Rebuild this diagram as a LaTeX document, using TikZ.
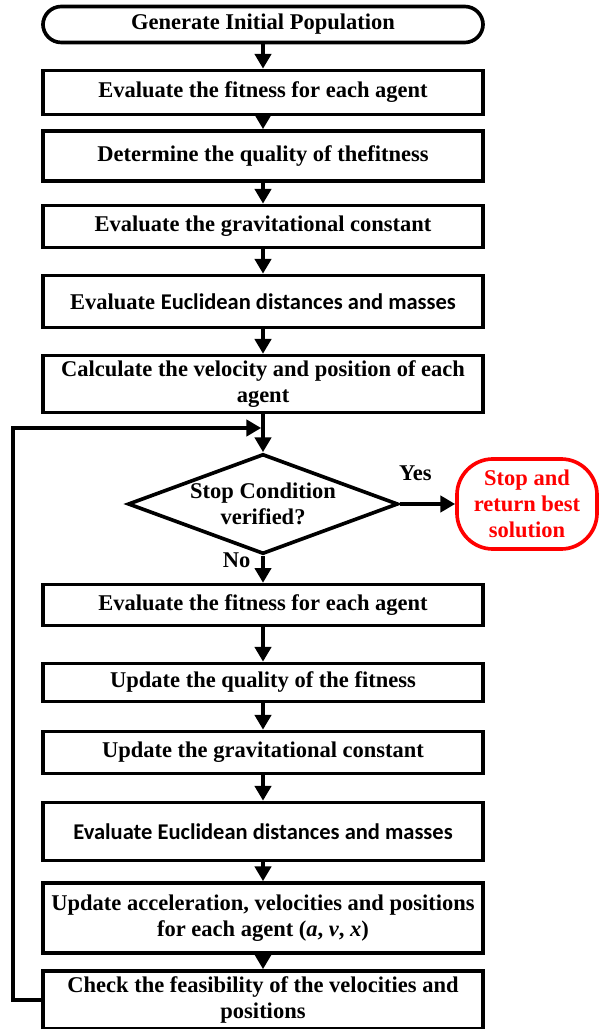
\documentclass[tikz,border=0pt]{standalone}
\usepackage{fontspec}
\setmainfont{Liberation Serif}
\newfontfamily\calfont{Carlito}
\usetikzlibrary{
  arrows.meta,
  shapes.geometric,
  positioning
}

\begin{document}
\begin{tikzpicture}[x=0.025cm, y=-0.025cm,
  font=\fontsize{16}{18.5}\selectfont\bfseries,
  stepbox/.style={draw, line width=2.6pt, minimum width=11cm, inner sep=1pt, align=center},
  arr/.style={line width=2.6pt, -{Triangle[length=10.5pt,width=11.5pt]}}]

\useasboundingbox (0,0) rectangle (599,1029);

% Initialisation part
\node[stepbox, rounded corners=0.46cm, minimum height=0.9cm] (init) at (263,24.5) {Generate Initial Population};
\node[stepbox, minimum height=1.1cm] (fit) at (263,92.5) {Evaluate the fitness for each agent};
\node[stepbox, minimum height=1.25cm] (qual) at (263,156) {Determine the quality of thefitness};
\node[stepbox, minimum height=1.05cm] (grav) at (263,226.5) {Evaluate the gravitational constant};
\node[stepbox, minimum height=1.3cm] (dist) at (263,301.5) {Evaluate {\calfont\fontsize{16}{18}\selectfont Euclidean distances and masses}};
\node[stepbox, minimum height=1.42cm] (vel) at (263,384) {Calculate the velocity and position of each\\agent};

% Decision
\node[draw, diamond, line width=2.6pt, aspect=2.7, minimum width=6.75cm, minimum height=2.5cm, inner sep=0pt, align=center] (stop) at (263,504) {Stop Condition\\verified?};
\node[draw=red, text=red, line width=2.6pt, rounded corners=0.9cm, minimum width=3.5cm, minimum height=2.25cm, inner sep=1pt, align=center] (best) at (527,504) {Stop and\\return best\\solution};

% Main loop
\node[stepbox, minimum height=1.02cm] (fit2) at (263,605) {Evaluate the fitness for each agent};
\node[stepbox, minimum height=0.95cm] (qual2) at (263,682.5) {Update the quality of the fitness};
\node[stepbox, minimum height=1.05cm] (grav2) at (263,752.5) {Update the gravitational constant};
\node[stepbox, minimum height=1.45cm] (dist2) at (263,831.5) {\calfont\fontsize{16}{18}\selectfont Evaluate Euclidean distances and masses};
\node[stepbox, minimum height=1.75cm] (acc) at (263,918) {Update acceleration, velocities and positions\\for each agent (\textit{a}, \textit{v}, \textit{x})};
\node[stepbox, minimum height=1.45cm] (chk) at (263,1000) {Check the feasibility of the velocities and\\positions};

% Connectors
\draw[arr] (init) -- (fit);
\draw[arr] (fit) -- (qual);
\draw[arr] (qual) -- (grav);
\draw[arr] (grav) -- (dist);
\draw[arr] (dist) -- (vel);
\draw[arr] (vel) -- (stop);
\draw[arr] (stop.east) -- node[pos=0.28, above=0.42cm] (yes) {Yes} (best.west);
\draw[arr] (stop.south) -- node[pos=0.15, left=0.15cm] (no) {No} (fit2.north);
\draw[arr] (fit2) -- (qual2);
\draw[arr] (qual2) -- (grav2);
\draw[arr] (grav2) -- (dist2);
\draw[arr] (dist2) -- (acc);
\draw[arr] (acc) -- (chk);

% Back to the stop test
\coordinate (turn) at (13,428);
\coordinate (merge) at (vel.south |- turn);
\draw[arr, shorten >=1.3pt] (chk.west) -| (turn) -- (merge);

\end{tikzpicture}
\end{document}
